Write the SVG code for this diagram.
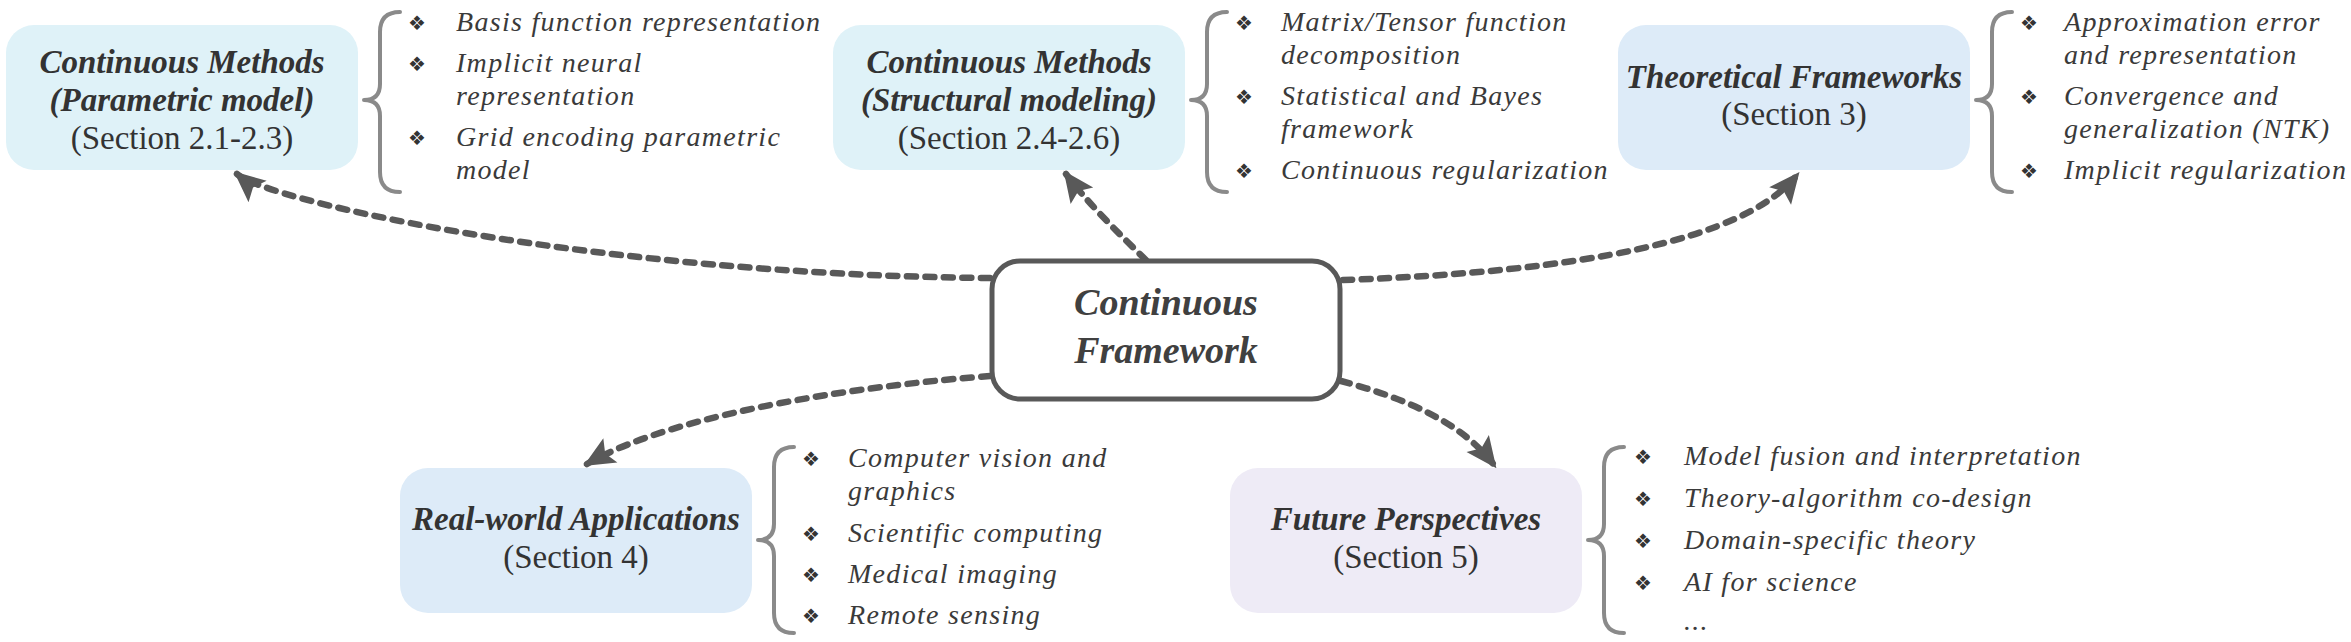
<svg xmlns="http://www.w3.org/2000/svg" width="2351" height="642" viewBox="0 0 2351 642">
<style>
.box{stroke:none}
.title{font-family:"Liberation Serif","Times New Roman",serif;font-weight:bold;font-style:italic;font-size:33px;fill:#333;text-anchor:middle}
.sec{font-family:"Liberation Serif","Times New Roman",serif;font-size:33px;fill:#333;text-anchor:middle}
.item{font-family:"Liberation Serif","Times New Roman",serif;font-style:italic;font-size:28px;letter-spacing:1.3px;fill:#3a3a3a}
.bul{font-family:"DejaVu Sans",sans-serif;font-size:20px;fill:#333;text-anchor:middle}
.brace{fill:none;stroke:#8a8a8a;stroke-width:4;stroke-linecap:round;stroke-linejoin:round}
.conn{fill:none;stroke:#595959;stroke-width:6.5;stroke-linecap:round;stroke-dasharray:9 9.5}
.ctitle{font-family:"Liberation Serif","Times New Roman",serif;font-weight:bold;font-style:italic;font-size:38px;fill:#404040;text-anchor:middle}
</style>
<defs>
<marker id="ah" viewBox="-34 -17 40 34" refX="-4" refY="0" markerWidth="40" markerHeight="34" markerUnits="userSpaceOnUse" orient="auto">
<path d="M0,0 L-31,-14 L-25,0 L-31,14 Z" fill="#595959"/>
</marker>
</defs>

<g id="connectors">
<path class="conn" d="M990,278 C600,275 270,202 237,174" marker-end="url(#ah)"/>
<path class="conn" d="M1146,260 C1120,235 1085,200 1066,174" marker-end="url(#ah)"/>
<path class="conn" d="M1343,280 C1580,272 1745,240 1797,175" marker-end="url(#ah)"/>
<path class="conn" d="M990,376 C880,384 680,410 587,464" marker-end="url(#ah)"/>
<path class="conn" d="M1341,381 C1400,397 1460,420 1494,465" marker-end="url(#ah)"/>
</g>

<g id="center">
<rect x="992" y="261" width="348" height="138" rx="28" fill="#fff" stroke="#595959" stroke-width="5"/>
<text class="ctitle" x="1166" y="315">Continuous</text>
<text class="ctitle" x="1166" y="363">Framework</text>
</g>

<g id="node-parametric">
<rect class="box" x="6" y="25" width="352" height="145" rx="28" fill="#dff2f8"/>
<text class="title" x="182" y="73">Continuous Methods</text>
<text class="title" x="182" y="111">(Parametric model)</text>
<text class="sec" x="182" y="149">(Section 2.1-2.3)</text>
<path class="brace" d="M400,12 Q380,12 380,32 L380,84 Q380,100 364,100 Q380,100 380,116 L380,172 Q380,192 400,192"/>
<text class="bul" x="417" y="30">❖</text>
<text class="item" x="456" y="31">Basis function representation</text>
<text class="bul" x="417" y="71">❖</text>
<text class="item" x="456" y="72">Implicit neural</text>
<text class="item" x="456" y="105">representation</text>
<text class="bul" x="417" y="145">❖</text>
<text class="item" x="456" y="146">Grid encoding parametric</text>
<text class="item" x="456" y="179">model</text>
</g>

<g id="node-structural">
<rect class="box" x="833" y="25" width="352" height="145" rx="28" fill="#dff2f8"/>
<text class="title" x="1009" y="73">Continuous Methods</text>
<text class="title" x="1009" y="111">(Structural modeling)</text>
<text class="sec" x="1009" y="149">(Section 2.4-2.6)</text>
<path class="brace" d="M1227,12 Q1207,12 1207,32 L1207,84 Q1207,100 1191,100 Q1207,100 1207,116 L1207,172 Q1207,192 1227,192"/>
<text class="bul" x="1244" y="30">❖</text>
<text class="item" x="1281" y="31">Matrix/Tensor function</text>
<text class="item" x="1281" y="64">decomposition</text>
<text class="bul" x="1244" y="104">❖</text>
<text class="item" x="1281" y="105">Statistical and Bayes</text>
<text class="item" x="1281" y="138">framework</text>
<text class="bul" x="1244" y="178">❖</text>
<text class="item" x="1281" y="179">Continuous regularization</text>
</g>

<g id="node-theory">
<rect class="box" x="1618" y="25" width="352" height="145" rx="28" fill="#ddebf8"/>
<text class="title" x="1794" y="88">Theoretical Frameworks</text>
<text class="sec" x="1794" y="125">(Section 3)</text>
<path class="brace" d="M2012,12 Q1992,12 1992,32 L1992,84 Q1992,100 1976,100 Q1992,100 1992,116 L1992,172 Q1992,192 2012,192"/>
<text class="bul" x="2029" y="30">❖</text>
<text class="item" x="2064" y="31">Approximation error</text>
<text class="item" x="2064" y="64">and representation</text>
<text class="bul" x="2029" y="104">❖</text>
<text class="item" x="2064" y="105">Convergence and</text>
<text class="item" x="2064" y="138">generalization (NTK)</text>
<text class="bul" x="2029" y="178">❖</text>
<text class="item" x="2064" y="179">Implicit regularization</text>
</g>

<g id="node-applications">
<rect class="box" x="400" y="468" width="352" height="145" rx="28" fill="#ddebf8"/>
<text class="title" x="576" y="530">Real-world Applications</text>
<text class="sec" x="576" y="568">(Section 4)</text>
<path class="brace" d="M794,447 Q774,447 774,467 L774,524 Q774,540 758,540 Q774,540 774,556 L774,613 Q774,633 794,633"/>
<text class="bul" x="811" y="466">❖</text>
<text class="item" x="848" y="467">Computer vision and</text>
<text class="item" x="848" y="500">graphics</text>
<text class="bul" x="811" y="541">❖</text>
<text class="item" x="848" y="542">Scientific computing</text>
<text class="bul" x="811" y="582">❖</text>
<text class="item" x="848" y="583">Medical imaging</text>
<text class="bul" x="811" y="623">❖</text>
<text class="item" x="848" y="624">Remote sensing</text>
</g>

<g id="node-future">
<rect class="box" x="1230" y="468" width="352" height="145" rx="28" fill="#eeebf6"/>
<text class="title" x="1406" y="530">Future Perspectives</text>
<text class="sec" x="1406" y="568">(Section 5)</text>
<path class="brace" d="M1624,447 Q1604,447 1604,467 L1604,524 Q1604,540 1588,540 Q1604,540 1604,556 L1604,613 Q1604,633 1624,633"/>
<text class="bul" x="1643" y="464">❖</text>
<text class="item" x="1684" y="465">Model fusion and interpretation</text>
<text class="bul" x="1643" y="506">❖</text>
<text class="item" x="1684" y="507">Theory-algorithm co-design</text>
<text class="bul" x="1643" y="548">❖</text>
<text class="item" x="1684" y="549">Domain-specific theory</text>
<text class="bul" x="1643" y="590">❖</text>
<text class="item" x="1684" y="591">AI for science</text>
<text class="item" x="1684" y="630">...</text>
</g>
</svg>
